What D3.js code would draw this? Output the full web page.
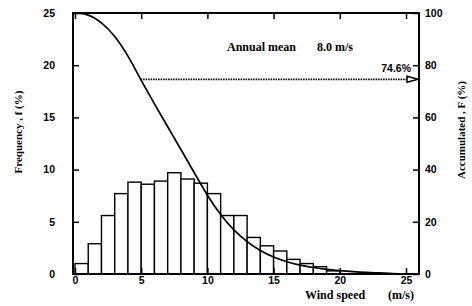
<!DOCTYPE html>
<html>
<head>
<meta charset="utf-8">
<script src="https://cdn.jsdelivr.net/npm/d3@7"></script>
<style>
  body { margin: 0; background: #fff; }
  .tick text { font-family: "Liberation Sans", Arial, sans-serif; font-weight: bold; font-size: 10.5px; fill: #000; }
  .tick line { stroke: #000; stroke-width: 1.5; }
  .lbl { font-family: "Liberation Serif", "Times New Roman", serif; font-weight: bold; fill: #000; }
</style>
</head>
<body>
<div id="chart"></div>
<script>
// wind speed bins (left edge, m/s) and frequency f (%)
const binStart = [0, 1, 2, 3, 4, 5, 6, 7, 8, 9, 10, 11, 12, 13, 14, 15, 16, 17, 18, 19]
const freq = [1.0, 2.9, 5.6, 7.7, 8.8, 8.6, 8.9, 9.7, 9.1, 8.7, 7.7, 5.6, 5.6, 3.5, 2.7, 2.2, 1.4, 1.0, 0.7, 0.3]

// accumulated (exceedance) curve F (%)
const curveV = [0, 1, 2, 3, 4, 5, 6, 7, 8, 9, 10, 11, 12, 13, 14, 15, 16, 17, 18, 19, 20, 21, 22, 23, 24, 25]
const curveF = [100, 99.2, 96.2, 91.0, 83.5, 74.2, 65.2, 56.4, 47.7, 38.9, 30.2, 22.8, 16.9, 12.4, 9.0, 6.5, 4.7, 3.4, 2.5, 1.8, 1.3, 0.9, 0.6, 0.4, 0.2, 0.1]

const xTicks = [0, 5, 10, 15, 20, 25]
const yTicks = [0, 5, 10, 15, 20, 25]
const yRTicks = [0, 20, 40, 60, 80, 100]

const annualMean = 8.0
const markF = 74.6

const W = 472, H = 306
const pLeft = 73, pRight = 419, pTop = 13, pBottom = 274

const svg = d3.select("#chart").append("svg")
    .attr("width", W)
    .attr("height", H)

let x = d3.scaleLinear().domain([0, 25]).range([75, 406])
let y = d3.scaleLinear().domain([0, 25]).range([pBottom, pTop])
let yR = d3.scaleLinear().domain([0, 100]).range([pBottom, pTop])

// bars
svg.selectAll(".bar")
    .data(binStart)
    .enter()
    .append("rect")
    .attr("class", "bar")
    .attr("x", d => x(d))
    .attr("width", d => x(d + 1) - x(d))
    .attr("y", (d, i) => y(freq[i]))
    .attr("height", (d, i) => y(0) - y(freq[i]))
    .attr("fill", "#fff")
    .attr("stroke", "#000")
    .attr("stroke-width", 1.4)

// accumulated curve
let pts = curveV.map((v, i) => [v, curveF[i]])
svg.append("path")
    .datum(pts)
    .attr("fill", "none")
    .attr("stroke", "#000")
    .attr("stroke-width", 1.7)
    .attr("d", d3.line().x(d => x(d[0])).y(d => yR(d[1])).curve(d3.curveMonotoneX))

// axes (ticks inward)
svg.append("g").attr("transform", `translate(0,${pBottom})`)
    .call(d3.axisBottom(x).tickValues(xTicks).tickSize(-6).tickPadding(3))
svg.append("g").attr("transform", `translate(0,${pTop})`)
    .call(d3.axisTop(x).tickValues(xTicks).tickSize(-6).tickFormat(""))
svg.append("g").attr("transform", `translate(${pLeft},0)`)
    .call(d3.axisLeft(y).tickValues(yTicks).tickSize(-6).tickPadding(18))
svg.append("g").attr("transform", `translate(${pRight},0)`)
    .call(d3.axisRight(yR).tickValues(yRTicks).tickSize(-6).tickPadding(6))
svg.selectAll(".domain").remove()

// frame
svg.append("rect")
    .attr("x", pLeft).attr("y", pTop)
    .attr("width", pRight - pLeft).attr("height", pBottom - pTop)
    .attr("fill", "none").attr("stroke", "#000").attr("stroke-width", 2)

// 74.6% marker: dotted line from the curve to the right axis
let vMark = 0
for (let i = 1; i < curveF.length; i++) {
    if (curveF[i] <= markF) {
        let t = (curveF[i - 1] - markF) / (curveF[i - 1] - curveF[i])
        vMark = curveV[i - 1] + t * (curveV[i] - curveV[i - 1])
        break
    }
}
let yM = yR(markF)
svg.append("line")
    .attr("x1", x(vMark)).attr("x2", pRight - 11)
    .attr("y1", yM).attr("y2", yM)
    .attr("stroke", "#000").attr("stroke-width", 1.8)
    .attr("stroke-dasharray", "1.5,1")
svg.append("path")
    .attr("d", `M${pRight - 12},${yM - 3} L${pRight - 1},${yM} L${pRight - 12},${yM + 3} Z`)
    .attr("fill", "#fff").attr("stroke", "#000").attr("stroke-width", 1.5)
svg.append("text")
    .attr("x", pRight - 8).attr("y", yM - 7)
    .attr("text-anchor", "end")
    .style("font-family", "Liberation Sans, Arial, sans-serif")
    .style("font-weight", "bold").style("font-size", "10.5px")
    .text(markF.toFixed(1) + "%")

// annotation
svg.append("text").attr("class", "lbl")
    .attr("x", 227).attr("y", 51)
    .style("font-size", "12px")
    .text("Annual mean")
svg.append("text").attr("class", "lbl")
    .attr("x", 317).attr("y", 51)
    .style("font-size", "12px")
    .text(annualMean.toFixed(1) + " m/s")

// axis titles
svg.append("text").attr("class", "lbl")
    .attr("x", 305).attr("y", 299)
    .style("font-size", "12px")
    .text("Wind speed")
svg.append("text").attr("class", "lbl")
    .attr("x", 388).attr("y", 299)
    .style("font-size", "12px")
    .text("(m/s)")
svg.append("text").attr("class", "lbl")
    .attr("text-anchor", "middle")
    .attr("transform", "translate(22,132) rotate(-90)")
    .style("font-size", "11px")
    .text("Frequency , f (%)")
svg.append("text").attr("class", "lbl")
    .attr("text-anchor", "middle")
    .attr("transform", "translate(465,130) rotate(-90)")
    .style("font-size", "11px")
    .text("Accumulated  , F (%)")
</script>
</body>
</html>
